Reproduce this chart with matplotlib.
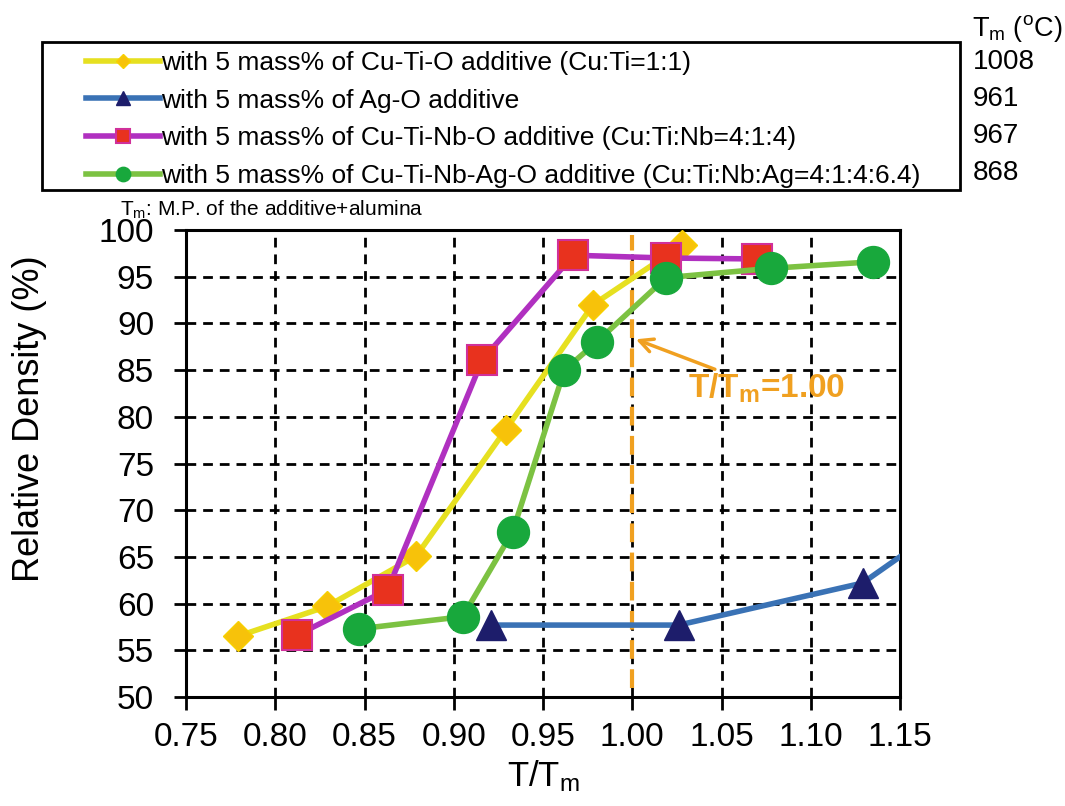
import matplotlib
matplotlib.use("Agg")
import matplotlib.pyplot as plt
from matplotlib.patches import Rectangle

plt.rcParams['font.family'] = ['Liberation Sans', 'DejaVu Sans']
plt.rcParams['mathtext.fontset'] = 'custom'
plt.rcParams['mathtext.rm'] = 'Liberation Sans'
plt.rcParams['mathtext.it'] = 'Liberation Sans'
plt.rcParams['mathtext.bf'] = 'Liberation Sans:bold'

# Relative density vs normalised sintering temperature T/Tm
cuti_x = [0.779, 0.829, 0.879, 0.929, 0.978, 1.028]
cuti_y = [56.5, 59.7, 65.1, 78.6, 92.0, 98.4]

ag_x = [0.921, 1.026, 1.129, 1.170]
ag_y = [57.7, 57.7, 62.2, 67.7]

cutinb_x = [0.812, 0.863, 0.916, 0.967, 1.019, 1.070]
cutinb_y = [56.6, 61.5, 86.1, 97.3, 97.0, 96.9]

cutinbag_x = [0.847, 0.905, 0.933, 0.962, 0.980, 1.019, 1.078, 1.135]
cutinbag_y = [57.3, 58.6, 67.7, 85.0, 88.0, 94.9, 95.9, 96.6]

series_labels = [
    "with 5 mass% of Cu-Ti-O additive (Cu:Ti=1:1)",
    "with 5 mass% of Ag-O additive",
    "with 5 mass% of Cu-Ti-Nb-O additive (Cu:Ti:Nb=4:1:4)",
    "with 5 mass% of Cu-Ti-Nb-Ag-O additive (Cu:Ti:Nb:Ag=4:1:4:6.4)",
]
melting_points = ["1008", "961", "967", "868"]

x_ticks = [0.75, 0.80, 0.85, 0.90, 0.95, 1.00, 1.05, 1.10, 1.15]
y_ticks = [50, 55, 60, 65, 70, 75, 80, 85, 90, 95, 100]

W, H = 1065, 806
fig = plt.figure(figsize=(W / 100, H / 100), dpi=100)
ax = fig.add_axes([186 / W, 1 - 697 / H, (900 - 186) / W, (697 - 230) / H])

styles = [
    dict(color='#e6e020', marker='D', ms=15, mfc='#f7c20a', mec='#f7d000', lw=4),
    dict(color='#3a72b5', marker='^', ms=22, mfc='#1d1d6b', mec='#1d1d6b', lw=4),
    dict(color='#b030c0', marker='s', ms=22, mfc='#e8321e', mec='#d0309a', mew=1.5, lw=4),
    dict(color='#7cc242', marker='o', ms=23, mfc='#18a83c', mec='#18a83c', lw=4),
]
data = [(cuti_x, cuti_y), (ag_x, ag_y), (cutinb_x, cutinb_y), (cutinbag_x, cutinbag_y)]

# draw order: blue, yellow, magenta, green
lines = [None] * 4
for i in [1, 0, 2, 3]:
    xs, ys = data[i]
    lines[i], = ax.plot(xs, ys, zorder=3 + i, clip_on=True, **styles[i])

# vertical reference at T/Tm = 1.00
ax.axvline(1.00, ymin=0.02, ymax=0.99, color='#f0a020', lw=3, ls=(0, (4.5, 2.5)), zorder=2)
ax.annotate("T/T$_\\mathbf{m}$=1.00", xy=(1.002, 88.3), xytext=(1.031, 83.0),
            color='#f0a020', fontsize=24, fontweight='bold', va='center', ha='left',
            arrowprops=dict(arrowstyle='->', color='#f0a020', lw=2.5, shrinkA=0, shrinkB=0))

ax.set_xlim(0.75, 1.15)
ax.set_ylim(50, 100)
ax.set_xticks(x_ticks)
ax.set_yticks(y_ticks)
ax.set_xticklabels([f"{v:.2f}" for v in x_ticks])
ax.set_yticklabels([str(v) for v in y_ticks])
ax.tick_params(labelsize=24, direction='out', length=9, width=2)
ax.tick_params(axis='x', pad=9)
ax.tick_params(axis='y', pad=14)
ax.grid(True, color='black', ls=(0, (3.5, 2.5)), lw=2, zorder=1)
for sp in ax.spines.values():
    sp.set_linewidth(2.2)

ax.set_ylabel("Relative Density (%)", fontsize=26)
ax.yaxis.set_label_coords(-0.195, 0.597)
ax.set_xlabel("T/T$_\\mathrm{m}$", fontsize=25, labelpad=4)

# legend above the plot, with a separately drawn frame
leg = fig.legend(lines, series_labels, loc='upper left',
                 bbox_to_anchor=(86 / W, 1 - 51 / H),
                 fontsize=19, frameon=False, handlelength=2.8, handletextpad=0.05,
                 borderaxespad=0, borderpad=0, markerscale=0.45, labelspacing=0.52)
fig.add_artist(Rectangle((42 / W, 1 - 190 / H), (960 - 42) / W, (190 - 42) / H,
                         transform=fig.transFigure, fill=False, lw=2, ec='black'))

fig.text(972 / W, 1 - 28 / H, "T$_\\mathrm{m}$ ($^\\mathrm{o}$C)", fontsize=19.5,
         ha='left', va='center')
for k, mp in enumerate(melting_points):
    fig.text(973 / W, 1 - (62 + k * 37) / H, mp, fontsize=20, ha='left', va='center')

fig.text(120 / W, 1 - 210 / H, "T$_\\mathrm{m}$: M.P. of the additive+alumina", fontsize=15,
         ha='left', va='center')

fig.savefig("out.png", dpi=100)
